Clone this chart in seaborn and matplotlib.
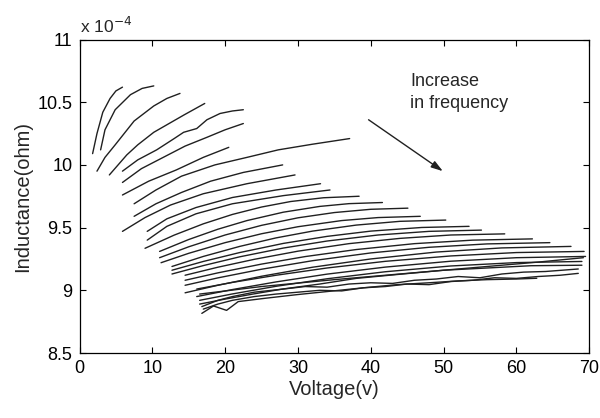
import pandas as pd
import seaborn as sns
import matplotlib
matplotlib.use("Agg")
import matplotlib.pyplot as plt
from matplotlib.ticker import FuncFormatter

# Each curve: (voltage [V], inductance [x 1e-4]),
# ordered from lowest to highest frequency
c01 = ([1.8, 2.4, 3.2, 4.2, 5.0, 5.9], [10.09, 10.25, 10.42, 10.53, 10.59, 10.62])
c02 = ([2.9, 3.5, 4.9, 7.0, 8.6, 10.2], [10.12, 10.28, 10.44, 10.56, 10.61, 10.63])
c03 = ([2.4, 3.5, 4.9, 7.5, 10.2, 12.0, 13.8], [9.95, 10.06, 10.16, 10.35, 10.47, 10.53, 10.57])
c04 = ([4.1, 6.5, 8.0, 10.2, 14.4, 17.2], [9.92, 10.08, 10.16, 10.26, 10.40, 10.49])
c05 = ([5.9, 8.0, 10.6, 13.0, 14.3, 16.1, 17.5, 19.3, 21.0, 22.5],
       [9.95, 10.04, 10.12, 10.21, 10.26, 10.29, 10.36, 10.41, 10.43, 10.44])
c06 = ([5.9, 8.5, 11.5, 14.5, 17.5, 20.0, 22.5], [9.86, 9.97, 10.06, 10.15, 10.22, 10.28, 10.33])
c07 = ([5.9, 9.5, 13.3, 17.0, 20.5], [9.76, 9.87, 9.96, 10.06, 10.14])
c08 = ([7.5, 10.5, 14.0, 18.6, 23.0, 27.3, 32.0, 37.1],
       [9.69, 9.80, 9.91, 10.00, 10.06, 10.12, 10.165, 10.21])
c09 = ([7.5, 10.5, 14.0, 18.0, 22.5, 27.9], [9.59, 9.69, 9.78, 9.87, 9.94, 10.0])
c10 = ([5.9, 9.0, 12.5, 17.0, 23.0, 29.6], [9.47, 9.58, 9.68, 9.77, 9.85, 9.92])
c11 = ([9.3, 12.0, 16.0, 21.0, 27.0, 33.1], [9.47, 9.57, 9.66, 9.74, 9.80, 9.85])
c12 = ([9.3, 12.0, 16.0, 21.0, 28.0, 34.4], [9.40, 9.51, 9.61, 9.69, 9.755, 9.80])
c13 = ([9.0, 13, 17, 21, 25, 29, 33.5, 38.4],
       [9.335, 9.44, 9.53, 9.605, 9.664, 9.708, 9.738, 9.75])
c14 = ([11.0, 15, 19, 23, 28, 33, 37, 41.6],
       [9.31, 9.405, 9.487, 9.556, 9.623, 9.669, 9.691, 9.70])
c15 = ([11.0, 15, 20, 25, 30, 35, 40, 45.1],
       [9.26, 9.347, 9.441, 9.518, 9.578, 9.620, 9.646, 9.655])
c16 = ([11.2, 15, 20, 25, 30, 36, 41, 46.8],
       [9.22, 9.295, 9.38, 9.451, 9.507, 9.556, 9.58, 9.59])
c17 = ([12.7, 17, 22, 27, 32, 38, 44, 50.3],
       [9.19, 9.27, 9.35, 9.418, 9.472, 9.52, 9.55, 9.56])
c18 = ([12.7, 17, 22, 28, 34, 40, 47, 53.5],
       [9.16, 9.23, 9.301, 9.374, 9.43, 9.472, 9.501, 9.51])
c19 = ([12.7, 17, 22, 28, 34, 41, 48, 55.2],
       [9.13, 9.197, 9.267, 9.337, 9.393, 9.441, 9.47, 9.48])
c20 = ([14.5, 19, 24, 30, 37, 44, 51, 58.4],
       [9.12, 9.184, 9.247, 9.312, 9.372, 9.414, 9.441, 9.45])
c21 = ([14.5, 19, 25, 31, 38, 46, 54, 62.2],
       [9.08, 9.139, 9.209, 9.269, 9.325, 9.372, 9.40, 9.41])
c22 = ([14.5, 19, 25, 32, 40, 48, 56, 64.6],
       [9.04, 9.099, 9.168, 9.236, 9.298, 9.343, 9.37, 9.38])
c23 = ([14.5, 19, 25, 32, 40, 49, 58, 67.5],
       [8.98, 9.04, 9.112, 9.184, 9.25, 9.305, 9.338, 9.35])
c24 = ([16.1, 21, 27, 34, 42, 51, 60, 69.3],
       [9.01, 9.063, 9.12, 9.178, 9.231, 9.274, 9.301, 9.31])
c25 = ([16.1, 21, 27, 34, 42, 51, 60, 69.5],
       [8.95, 9.006, 9.067, 9.129, 9.185, 9.232, 9.26, 9.27])
c26 = ([16.5, 25.0, 35.0, 45.0, 55.0, 63.0, 69.2], [8.97, 9.03, 9.085, 9.135, 9.185, 9.225, 9.26])
c27 = ([16.5, 21, 27, 34, 42, 51, 60, 69],
       [8.92, 8.971, 9.032, 9.092, 9.148, 9.194, 9.221, 9.23])
c28 = ([16.5, 20, 24, 28, 33, 38, 44, 50, 56, 62, 69],
       [8.89, 8.93, 8.972, 9.011, 9.05, 9.095, 9.128, 9.16, 9.178, 9.196, 9.20])
c29 = ([16.8, 19, 21, 24, 28, 31, 34, 37, 40, 43, 46, 49, 52, 55, 58, 61, 64, 68.5],
       [8.87, 8.92, 8.95, 8.985, 9.01, 9.03, 9.025, 9.05, 9.06, 9.055, 9.08, 9.09, 9.11, 9.10,
        9.13, 9.145, 9.15, 9.17])
c30 = ([17.0, 19, 21, 24, 27, 30, 33, 36, 39, 42, 45, 48, 51, 54, 57, 60, 63, 66, 68.5],
       [8.85, 8.89, 8.92, 8.95, 8.97, 8.985, 9.00, 8.995, 9.02, 9.03, 9.05, 9.045, 9.07, 9.08,
        9.10, 9.095, 9.11, 9.12, 9.135])
c31 = ([16.8, 18.4, 20.2, 21.8, 25.3, 29.8, 34.0, 39.0, 43.6, 48.0, 52.0, 56.0, 60.0, 62.8],
       [8.816, 8.875, 8.84, 8.91, 8.935, 8.965, 8.99, 9.02, 9.045, 9.06, 9.075, 9.085, 9.09, 9.096])

curves = [c01, c02, c03, c04, c05, c06, c07, c08, c09, c10, c11, c12, c13, c14, c15, c16,
          c17, c18, c19, c20, c21, c22, c23, c24, c25, c26, c27, c28, c29, c30, c31]

x_ticks = [0, 10, 20, 30, 40, 50, 60, 70]
y_ticks = [8.5, 9, 9.5, 10, 10.5, 11]

# long-form table, one row per point
rows = []
for i, (v, l) in enumerate(curves):
    for vv, ll in zip(v, l):
        rows.append({"curve": i, "Voltage": vv, "Inductance": ll})
df = pd.DataFrame(rows)

sns.set_style("ticks")
plt.rcParams["font.family"] = ["Liberation Sans", "DejaVu Sans"]

fig, ax = plt.subplots(figsize=(6.0, 4.18), dpi=100)
fig.subplots_adjust(left=0.1325, right=0.982, bottom=0.1555, top=0.9055)

sns.lineplot(data=df, x="Voltage", y="Inductance", units="curve", estimator=None,
             sort=False, color="#202020", lw=1.0, ax=ax)

ax.set_xlim(0, 70)
ax.set_ylim(8.5, 11)
ax.set_xticks(x_ticks)
ax.set_yticks(y_ticks)
ax.yaxis.set_major_formatter(FuncFormatter(lambda y, _: f"{y:g}"))
ax.tick_params(direction="in", length=4, width=0.8, top=True, right=True,
               labelsize=13, colors="black", pad=5)
for s in ax.spines.values():
    s.set_visible(True)
    s.set_color("black")
    s.set_linewidth(0.9)

ax.set_xlabel("Voltage(v)", fontsize=14.5, labelpad=2)
ax.set_ylabel("Inductance(ohm)", fontsize=14.5, labelpad=4)
ax.text(0.0, 1.012, r"x 10$^{-4}$", transform=ax.transAxes, ha="left", va="bottom",
        fontsize=12.5)

ax.text(45.4, 10.73, "Increase\nin frequency", ha="left", va="top", fontsize=13,
        linespacing=1.35)
ax.annotate("", xy=(49.9, 9.95), xytext=(39.7, 10.36),
            arrowprops=dict(arrowstyle="-|>,head_length=0.7,head_width=0.22",
                            color="#202020", lw=1.0, shrinkA=0, shrinkB=0))

fig.savefig("out.png", dpi=100)
